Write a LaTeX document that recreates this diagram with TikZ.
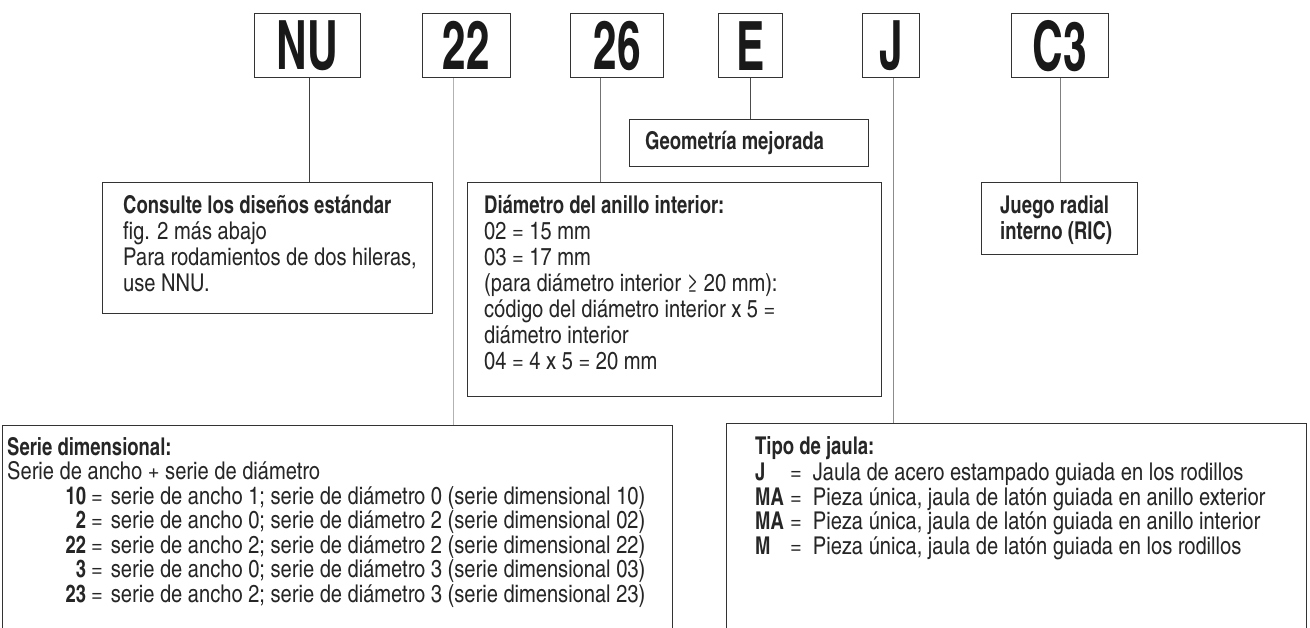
\documentclass[tikz,border=0pt]{standalone}
\usepackage{fontspec}
\setmainfont{texgyreheroscn}[Extension=.otf,UprightFont=*-regular,BoldFont=*-bold,ItalicFont=*-italic,BoldItalicFont=*-bolditalic,BoldFeatures={FakeStretch=0.92}]
\usetikzlibrary{positioning}

\newcommand\bodyfont{\fontsize{24.5}{26}\selectfont}
\newcommand\listfont{\fontsize{24.5}{24.5}\selectfont}
\newcommand\codefont{\fontsize{68}{68}\selectfont\bfseries}
\newcommand\dimrow[2]{\hspace*{57pt}\makebox[22pt][r]{\textbf{#1}}\hspace{5pt}=\hspace{8pt}#2}
\newcommand\cagerow[2]{\makebox[35pt][l]{\textbf{#1}}=\hspace{11pt}#2}

\tikzset{
  codebox/.style={draw=black!80, line width=1.3pt, minimum height=64pt, inner sep=0pt, anchor=north west, text=black!90},
  notebox/.style={draw=black!80, line width=1.2pt, inner sep=0pt, anchor=north west},
  notetext/.style={inner sep=0pt, anchor=north west, align=left, font=\bodyfont, text=black!85, execute at begin node=\rule{0pt}{20pt}},
  link/.style={line width=0.9pt},
}

\begin{document}
\begin{tikzpicture}[x=1pt,y=-1pt]
\useasboundingbox (0,0) rectangle (1310,628);
\clip (0,0) rectangle (1310,628);

% designation
\node (codeNU) [codebox, minimum width=106pt] at (254,13) {\scalebox{0.83}[1]{\codefont NU}};
\node (code22) [codebox, minimum width=88pt] at (422,13) {\scalebox{0.83}[1]{\codefont 22}};
\node (code26) [codebox, minimum width=93pt] at (570,13) {\scalebox{0.83}[1]{\codefont 26}};
\node (codeE) [codebox, minimum width=64pt] at (718,13) {\scalebox{0.83}[1]{\codefont E}};
\node (codeJ) [codebox, minimum width=57pt] at (862,13) {\scalebox{0.83}[1]{\codefont J}};
\node (codeC3) [codebox, minimum width=97pt] at (1011,13) {\scalebox{0.83}[1]{\codefont C3}};

% explanation boxes
\node (geom) [notebox, minimum width=239pt, minimum height=47pt] at (629,119) {};
\node (consulte) [notebox, minimum width=330pt, minimum height=131pt] at (102,182) {};
\node (diam) [notebox, minimum width=414pt, minimum height=214pt] at (467,182) {};
\node (juego) [notebox, minimum width=156pt, minimum height=72pt] at (981,182) {};
\node (serie) [notebox, minimum width=670pt, minimum height=250pt] at (2,425) {};
\node (tipo) [notebox, minimum width=580pt, minimum height=250pt] at (726,423) {};

\node (geomtxt) [inner sep=0pt, font=\bodyfont\bfseries, text=black!85, right=16pt of geom.west] {Geometría mejorada};
\node (consultetxt) [notetext, below right=13pt and 21pt of consulte.north west]
  {\textbf{Consulte los diseños estándar}\\fig. 2 más abajo\\Para rodamientos de dos hileras,\\use NNU.};
\node (diamtxt) [notetext, below right=13pt and 17pt of diam.north west]
  {\textbf{Diámetro del anillo interior:}\\02 = 15 mm\\03 = 17 mm\\(para diámetro interior ≥ 20 mm):\\código del diámetro interior x 5 =\\diámetro interior\\04 = 4 x 5 = 20 mm};
\node (juegotxt) [notetext, font=\bodyfont\bfseries, below right=13pt and 19pt of juego.north west]
  {Juego radial\\interno (RIC)};
\node (serietxt) [notetext, font=\listfont, below right=12pt and 5pt of serie.north west]
  {\textbf{Serie dimensional:}\\Serie de ancho + serie de diámetro\\
   \dimrow{10}{serie de ancho 1; serie de diámetro 0 (serie dimensional 10)}\\
   \dimrow{2}{serie de ancho 0; serie de diámetro 2 (serie dimensional 02)}\\
   \dimrow{22}{serie de ancho 2; serie de diámetro 2 (serie dimensional 22)}\\
   \dimrow{3}{serie de ancho 0; serie de diámetro 3 (serie dimensional 03)}\\
   \dimrow{23}{serie de ancho 2; serie de diámetro 3 (serie dimensional 23)}};
\node (tipotxt) [notetext, font=\listfont, below right=13pt and 29pt of tipo.north west]
  {\textbf{Tipo de jaula:}\\[2pt]
   \cagerow{J}{Jaula de acero estampado guiada en los rodillos}\\
   \cagerow{MA}{Pieza única, jaula de latón guiada en anillo exterior}\\
   \cagerow{MA}{Pieza única, jaula de latón guiada en anillo interior}\\
   \cagerow{M}{Pieza única, jaula de latón guiada en los rodillos}};

% connectors
\draw[link, black!75] ([xshift=2pt]codeNU.south) -- ([xshift=2pt]codeNU.south |- consulte.north);
\draw[link, black!30] ([xshift=-13pt]code22.south) -- ([xshift=-13pt]code22.south |- serie.north);
\draw[link, black!55] ([xshift=-16.5pt]code26.south) -- ([xshift=-16.5pt]code26.south |- diam.north);
\draw[link, black!70] (codeE.south) -- (codeE.south |- geom.north);
\draw[link, black!45] ([xshift=2.5pt]codeJ.south) -- ([xshift=2.5pt]codeJ.south |- tipo.north);
\draw[link, black!50] (codeC3.south) -- (codeC3.south |- juego.north);
\end{tikzpicture}
\end{document}
